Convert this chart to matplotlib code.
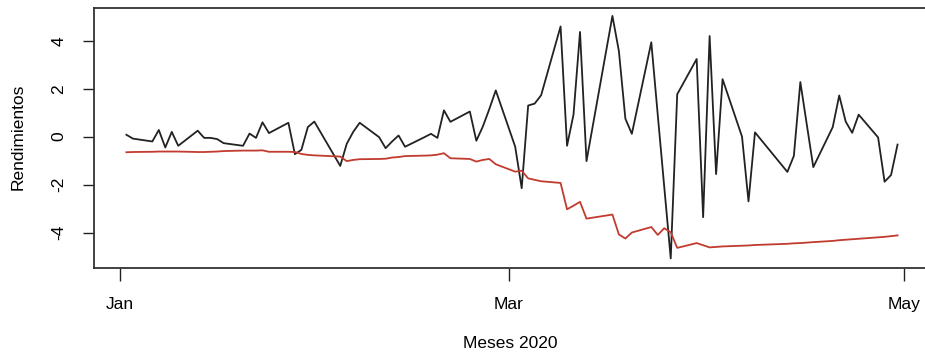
import numpy as np
import pandas as pd
import matplotlib
matplotlib.use('Agg')
import matplotlib.pyplot as plt
import matplotlib.dates as mdates

plt.rcParams['font.family'] = ['Liberation Sans', 'DejaVu Sans']

# trading days (Jan 2 - Apr 30, 2020)
fechas = [
    '2020-01-02', '2020-01-03', '2020-01-06', '2020-01-07', '2020-01-08', '2020-01-09',
    '2020-01-10', '2020-01-13', '2020-01-14', '2020-01-15', '2020-01-16', '2020-01-17',
    '2020-01-20', '2020-01-21', '2020-01-22', '2020-01-23', '2020-01-24', '2020-01-27',
    '2020-01-28', '2020-01-29', '2020-01-30', '2020-01-31',
    '2020-02-04', '2020-02-05', '2020-02-06', '2020-02-07', '2020-02-10', '2020-02-11',
    '2020-02-12', '2020-02-13', '2020-02-14', '2020-02-17', '2020-02-18', '2020-02-19',
    '2020-02-20', '2020-02-21', '2020-02-24', '2020-02-25', '2020-02-26', '2020-02-27',
    '2020-02-28',
    '2020-03-02', '2020-03-03', '2020-03-04', '2020-03-05', '2020-03-06', '2020-03-09',
    '2020-03-10', '2020-03-11', '2020-03-12', '2020-03-13', '2020-03-17', '2020-03-18',
    '2020-03-19', '2020-03-20', '2020-03-23', '2020-03-24', '2020-03-25', '2020-03-26',
    '2020-03-27', '2020-03-30', '2020-03-31',
    '2020-04-01', '2020-04-02', '2020-04-03', '2020-04-06', '2020-04-07', '2020-04-08',
    '2020-04-13', '2020-04-14', '2020-04-15', '2020-04-16', '2020-04-17', '2020-04-20',
    '2020-04-21', '2020-04-22', '2020-04-23', '2020-04-24', '2020-04-27', '2020-04-28',
    '2020-04-29', '2020-04-30',
]

# rendimientos (black)
rendimientos = [
    0.08, -0.08, -0.2, 0.28, -0.45, 0.2, -0.38, 0.25, -0.05, -0.05, -0.1, -0.27,
    -0.38, 0.13, -0.05, 0.6, 0.15, 0.58, -0.73, -0.55, 0.4, 0.63,
    -1.22, -0.3, 0.2, 0.58, -0.02, -0.48, -0.2, 0.05, -0.42, -0.02, 0.12, -0.05,
    1.1, 0.62, 1.05, -0.17, 0.42, 1.15, 1.93,
    -0.42, -2.15, 1.3, 1.38, 1.73, 4.6, -0.38, 0.93, 4.37, -1.02, 5.04, 3.57,
    0.75, 0.12, 3.94, 0.9, -2.1, -5.08, 1.77, 3.24, -3.36,
    4.2, -1.56, 2.4, 0.0, -2.7, 0.18, -1.47, -0.8, 2.28, 0.5, -1.27, 0.4,
    1.72, 0.63, 0.16, 0.92, -0.03, -1.88, -1.6, -0.33,
]

# red line
var = [
    -0.65, -0.64, -0.63, -0.62, -0.62, -0.62, -0.62, -0.64, -0.64, -0.63, -0.62, -0.6,
    -0.58, -0.58, -0.58, -0.57, -0.63, -0.63, -0.64, -0.72, -0.76, -0.78,
    -0.83, -1.02, -0.97, -0.94, -0.93, -0.92, -0.87, -0.85, -0.81, -0.79, -0.78, -0.75,
    -0.69, -0.9, -0.93, -1.04, -0.97, -0.93, -1.15,
    -1.46, -1.42, -1.74, -1.8, -1.86, -1.93, -3.03, -2.88, -2.72, -3.42, -3.25, -4.08,
    -4.25, -4.0, -3.77, -4.1, -3.82, -3.99, -4.64, -4.44, -4.53,
    -4.62, -4.6, -4.58, -4.55, -4.54, -4.52, -4.47, -4.45, -4.44, -4.42, -4.4, -4.35,
    -4.32, -4.3, -4.28, -4.26, -4.2, -4.18, -4.15, -4.12,
]

x = pd.to_datetime(fechas)

fig = plt.figure(figsize=(9.25, 3.6), dpi=100)
ax = fig.add_axes([94 / 925, 92 / 360, (928 - 94) / 925, 260 / 360])

ax.plot(x, rendimientos, color='#222222', lw=1.3)
ax.plot(x, var, color='#c23b2f', lw=1.3)

ax.set_xlim(pd.Timestamp('2020-01-01') - pd.Timedelta(days=4.0),
            pd.Timestamp('2020-05-01') + pd.Timedelta(days=3.7))
ax.set_ylim(-5.48, 5.37)

ax.set_xticks(pd.to_datetime(['2020-01-01', '2020-03-01', '2020-05-01']))
ax.set_xticklabels(['Jan', 'Mar', 'May'])
ax.set_yticks([-4, -2, 0, 2, 4])
ax.set_yticklabels(['-4', '-2', '0', '2', '4'], rotation=90, va='center')

ax.tick_params(axis='x', length=9, width=1.0, pad=12, labelsize=12.5, color='#222222')
ax.tick_params(axis='y', length=8, width=1.0, pad=12, labelsize=12.5, color='#222222')

for s in ax.spines.values():
    s.set_linewidth(1.3)
    s.set_color('#333333')

fig.text(18 / 925, 1 - 137 / 360, 'Rendimientos', rotation=90, ha='center', va='center', fontsize=12.5)
fig.text(510 / 925, 1 - 343 / 360, 'Meses 2020', ha='center', va='center', fontsize=12.5)

fig.savefig('out.png', dpi=100)
